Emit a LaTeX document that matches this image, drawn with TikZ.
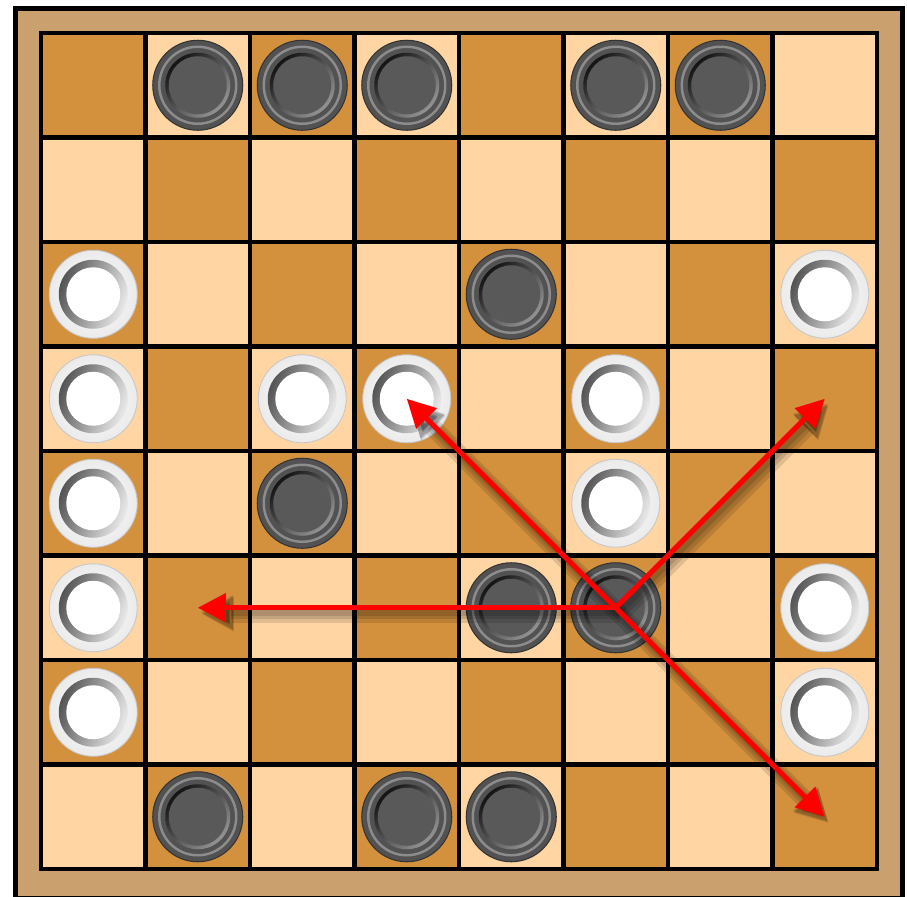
\documentclass[tikz,border=0pt]{standalone}
\usetikzlibrary{arrows.meta}

\definecolor{sqcolor0}{HTML}{D4913D}
\definecolor{sqcolor1}{HTML}{FFD6A3}
\definecolor{framecolor}{HTML}{C9A06E}

\begin{document}
\begin{tikzpicture}[
    square/.style={rectangle, draw=black, line width=0.09cm, minimum size=2.09cm,
        inner sep=0pt, outer sep=0pt},
    boardframe/.style={rectangle, draw=black, line width=0.1cm, fill=framecolor,
        minimum width=17.75cm, minimum height=17.8cm, inner sep=0pt},
    blackman/.style={circle, inner sep=0pt, minimum size=1.8cm, fill=black!68,
        draw=black!80, line width=0.6pt,
        path picture={
            \draw[black!45, line width=1.4pt] (path picture bounding box.center) circle (0.77cm);
            \shade[top color=black!92, bottom color=black!42, shading angle=45]
                (path picture bounding box.center) circle (0.65cm);
            \fill[black!65] (path picture bounding box.center) circle (0.58cm);
        }},
    whiteman/.style={circle, inner sep=0pt, minimum size=1.76cm, inner color=white,
        outer color=black!8, draw=black!22, line width=0.5pt,
        path picture={
            \shade[top color=black!75, bottom color=white, shading angle=70]
                (path picture bounding box.center) circle (0.69cm);
            \fill[white] (path picture bounding box.center) circle (0.54cm);
        }},
    move/.style={red, line width=0.1cm, -{Triangle[length=0.56cm, width=0.56cm]}},
    moveshadow/.style={black, opacity=0.12, -{Triangle[length=0.64cm, width=0.64cm]}},
]

\useasboundingbox (0,0) rectangle (18.14,-17.92);

% ---- Frame ----
\node[boardframe] (board) at (9.175,-9.06) {};

% ---- Squares (mod 0 = dark, 1 = light) ----
\foreach \r in {0,...,7}
    \foreach \c in {0,...,7} {
        \pgfmathtruncatemacro\s{mod(\r+\c,2)}
        \node[square, fill=sqcolor\s] (sq-\r-\c) at ({1.865+2.09*\c},{-1.705-2.09*\r}) {};
    }

% ---- Pieces ----
\foreach \r/\c in {0/1,0/2,0/3,0/5,0/6,2/4,4/2,5/4,5/5,7/1,7/3,7/4}
    \node[blackman] (b-\r-\c) at (sq-\r-\c) {};
\foreach \r/\c in {2/0,2/7,3/0,3/2,3/3,3/5,4/0,4/5,5/0,5/7,6/0,6/7}
    \node[whiteman] (w-\r-\c) at (sq-\r-\c) {};

% ---- Moves from b-5-5 ----
\foreach \t in {w-3-3, sq-3-7, sq-5-1, sq-7-7}
    \foreach \w/\dx/\dy in {0.36/0.08/-0.13, 0.24/0.07/-0.11, 0.14/0.06/-0.09}
        \draw[moveshadow, line width=\w cm, transform canvas={shift={(\dx cm,\dy cm)}}]
            (b-5-5.center) -- (\t.center);
\foreach \t in {w-3-3, sq-3-7, sq-5-1, sq-7-7}
    \draw[move] (b-5-5.center) -- (\t.center);

\end{tikzpicture}
\end{document}
